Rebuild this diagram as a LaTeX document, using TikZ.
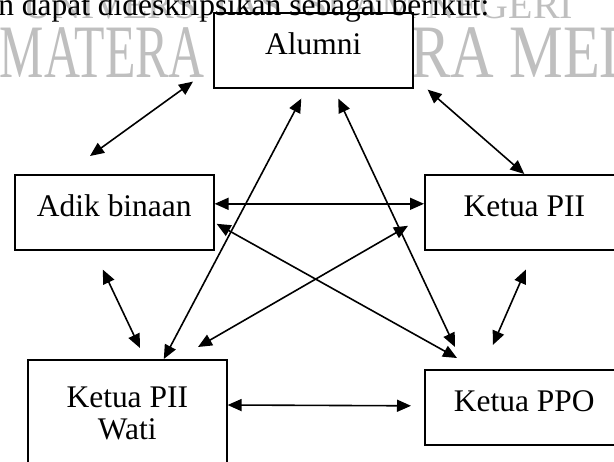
\documentclass[tikz,border=0pt]{standalone}
\usepackage{fontspec}
\setmainfont{Liberation Serif}
\usetikzlibrary{arrows.meta,calc}

\tikzset{
  kotak/.style={draw, line width=1.2pt, fill=white, anchor=north west, inner sep=0pt,
    minimum width=149.25pt, minimum height=56.25pt, align=center, text depth=9.75pt,
    font=\fontsize{23.6}{24}\selectfont},
  panah/.style={{Triangle[length=10.5pt,width=9pt]}-{Triangle[length=10.5pt,width=9pt]}, line width=1.2pt},
  watermark/.style={text=black!25, inner sep=0pt, anchor=base west}
}

\begin{document}
\begin{tikzpicture}[x=0.75pt,y=0.75pt,yscale=-1,xscale=1]
\useasboundingbox (0,0) rectangle (614,461);
\clip (0,0) rectangle (614,461);
\fill[white] (0,0) rectangle (614,461);

% watermark
\node[watermark, font=\fontsize{30}{30}\selectfont] (wmatas) at (23,18) {UNIVERSITAS ISLAM NEGERI};
\node[watermark, anchor=base east, font=\fontsize{56.6}{56.6}\selectfont] (wmkiri) at (205,77) {\scalebox{0.66}[1]{SUMATERA}};
\node[watermark, font=\fontsize{56.6}{56.6}\selectfont] (wmkanan) at (291,77) {\scalebox{0.8}[1]{UTARA MEDAN}};

% kotak
\node[kotak] (alumni) at (213,12) {Alumni};
\node[kotak] (adik) at (14,174) {Adik binaan};
\node[kotak] (pii) at (424,174) {Ketua PII};
\node[kotak, minimum height=90pt] (wati) at (27,359) {Ketua PII\\Wati};
\node[kotak] (ppo) at (424,369) {Ketua PPO};

% baris teks di atas
\node[anchor=base west, inner sep=0pt, font=\fontsize{23.6}{24}\selectfont] (teks) at (-2,15) {n dapat dideskripsikan sebagai berikut:};

% panah
\draw[panah] ($(alumni.south west)+(-20,-7)$) -- ($(adik.north west)+(76,-18)$);
\draw[panah] ($(alumni.south east)+(14,1)$) -- (pii.north);
\draw[panah] ($(adik.east)+(0,-8.5)$) -- ($(pii.west)+(0,-8.5)$);
\draw[panah] ($(adik.east)+(2,11.5)$) -- ($(ppo.north west)+(33,-11)$);
\draw[panah] ($(pii.west)+(-16,13.5)$) -- ($(wati.north west)+(171,-12)$);
\draw[panah] ($(alumni.south)+(-12,10)$) -- ($(wati.north)+(36.5,0)$);
\draw[panah] ($(alumni.south)+(25,10)$) -- ($(ppo.north west)+(31,-22)$);
\draw[panah] ($(adik.south)+(-11.5,19)$) -- ($(wati.north west)+(113,-11)$);
\draw[panah] ($(pii.south)+(1.5,19)$) -- ($(ppo.north)+(-31.5,-24)$);
\draw[panah] ($(wati.north east)+(0,46)$) -- ($(ppo.west)+(-13,-1.5)$);

\end{tikzpicture}
\end{document}
